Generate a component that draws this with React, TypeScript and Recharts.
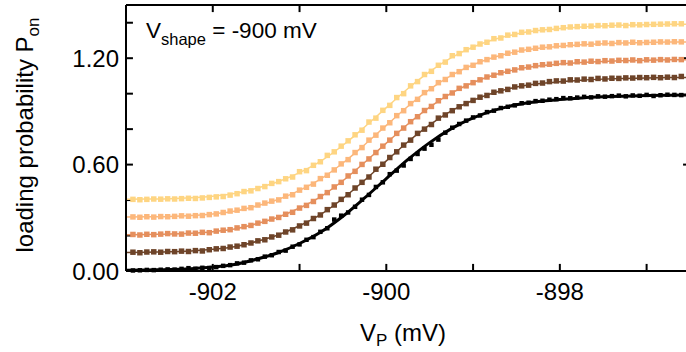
import { ComposedChart, Line, Scatter, XAxis, YAxis, ZAxis } from 'recharts';

// pulse voltage V_P (mV) of every measured point
const vp = [
  -902.92, -902.84, -902.76, -902.68, -902.6, -902.52, -902.44, -902.36, -902.28, -902.2,
  -902.12, -902.04, -901.96, -901.88, -901.8, -901.72, -901.64, -901.56, -901.48, -901.4,
  -901.32, -901.24, -901.16, -901.08, -901.0, -900.92, -900.84, -900.76, -900.68, -900.6,
  -900.52, -900.44, -900.36, -900.28, -900.2, -900.12, -900.04, -899.96, -899.88, -899.8,
  -899.72, -899.64, -899.56, -899.48, -899.4, -899.32, -899.24, -899.16, -899.08, -899.0,
  -898.92, -898.84, -898.76, -898.68, -898.6, -898.52, -898.44, -898.36, -898.28, -898.2,
  -898.12, -898.04, -897.96, -897.88, -897.8, -897.72, -897.64, -897.56, -897.48, -897.4,
  -897.32, -897.24, -897.16, -897.08, -897.0, -896.92, -896.84, -896.76, -896.68, -896.6,
];

// measured P_on, each trace shifted up by 0.1 from the one below
const blackPts = [
  0.003, 0.004, 0.006, 0.005, 0.007, 0.009, 0.008, 0.012, 0.016, 0.013,
  0.018, 0.017, 0.022, 0.029, 0.033, 0.043, 0.047, 0.06, 0.066, 0.081,
  0.089, 0.107, 0.115, 0.137, 0.15, 0.176, 0.191, 0.221, 0.241, 0.29,
  0.312, 0.33, 0.362, 0.402, 0.429, 0.474, 0.5, 0.546, 0.566, 0.595,
  0.632, 0.66, 0.69, 0.712, 0.741, 0.78, 0.808, 0.829, 0.848, 0.866,
  0.877, 0.896, 0.904, 0.919, 0.926, 0.934, 0.946, 0.949, 0.958, 0.96,
  0.966, 0.969, 0.975, 0.974, 0.978, 0.982, 0.979, 0.985, 0.983, 0.986,
  0.989, 0.985, 0.99, 0.988, 0.993, 0.987, 0.991, 0.994, 0.993, 0.992,
];
const brownPts = [
  0.106, 0.103, 0.107, 0.108, 0.106, 0.11, 0.109, 0.112, 0.11, 0.115,
  0.113, 0.12, 0.125, 0.127, 0.135, 0.14, 0.148, 0.158, 0.17, 0.176,
  0.192, 0.202, 0.22, 0.232, 0.254, 0.27, 0.296, 0.316, 0.346, 0.372,
  0.404, 0.43, 0.468, 0.5, 0.53, 0.574, 0.602, 0.64, 0.672, 0.71,
  0.738, 0.776, 0.8, 0.826, 0.862, 0.88, 0.904, 0.926, 0.944, 0.962,
  0.98, 0.99, 1.008, 1.016, 1.024, 1.038, 1.044, 1.048, 1.058, 1.06,
  1.068, 1.072, 1.071, 1.078, 1.077, 1.082, 1.08, 1.086, 1.083, 1.087,
  1.086, 1.089, 1.088, 1.091, 1.09, 1.092, 1.09, 1.093, 1.091, 1.097,
];
const orangePts = [
  0.206, 0.203, 0.207, 0.205, 0.208, 0.211, 0.209, 0.208, 0.214, 0.213,
  0.218, 0.216, 0.225, 0.23, 0.233, 0.243, 0.25, 0.257, 0.27, 0.28,
  0.293, 0.302, 0.32, 0.331, 0.355, 0.37, 0.392, 0.42, 0.442, 0.474,
  0.5, 0.536, 0.562, 0.601, 0.632, 0.668, 0.704, 0.738, 0.776, 0.806,
  0.842, 0.87, 0.905, 0.928, 0.96, 0.984, 1.004, 1.03, 1.044, 1.062,
  1.078, 1.094, 1.104, 1.118, 1.126, 1.134, 1.146, 1.15, 1.158, 1.163,
  1.166, 1.171, 1.175, 1.173, 1.18, 1.178, 1.183, 1.181, 1.186, 1.184,
  1.188, 1.187, 1.19, 1.186, 1.191, 1.189, 1.192, 1.19, 1.193, 1.192,
];
const apricotPts = [
  0.305, 0.303, 0.306, 0.304, 0.307, 0.306, 0.308, 0.311, 0.309, 0.312,
  0.313, 0.318, 0.322, 0.33, 0.338, 0.343, 0.353, 0.357, 0.372, 0.383,
  0.394, 0.401, 0.422, 0.43, 0.456, 0.472, 0.49, 0.521, 0.54, 0.57,
  0.604, 0.628, 0.668, 0.696, 0.738, 0.766, 0.806, 0.836, 0.876, 0.904,
  0.944, 0.968, 1.006, 1.028, 1.062, 1.08, 1.108, 1.124, 1.148, 1.16,
  1.18, 1.192, 1.206, 1.214, 1.228, 1.234, 1.246, 1.25, 1.256, 1.262,
  1.264, 1.27, 1.272, 1.276, 1.278, 1.281, 1.279, 1.284, 1.286, 1.283,
  1.288, 1.286, 1.29, 1.287, 1.289, 1.29, 1.292, 1.291, 1.293, 1.292,
];
const yellowPts = [
  0.404, 0.402, 0.404, 0.406, 0.405, 0.407, 0.406, 0.408, 0.41, 0.409,
  0.412, 0.415, 0.418, 0.42, 0.428, 0.436, 0.448, 0.452, 0.465, 0.476,
  0.494, 0.504, 0.52, 0.53, 0.56, 0.566, 0.596, 0.616, 0.652, 0.672,
  0.704, 0.734, 0.768, 0.794, 0.84, 0.862, 0.906, 0.934, 0.978, 1.0,
  1.044, 1.068, 1.108, 1.126, 1.16, 1.178, 1.214, 1.226, 1.248, 1.262,
  1.28, 1.29, 1.31, 1.314, 1.33, 1.334, 1.346, 1.348, 1.356, 1.36,
  1.362, 1.368, 1.372, 1.376, 1.378, 1.38, 1.381, 1.384, 1.383, 1.386,
  1.387, 1.384, 1.389, 1.388, 1.39, 1.391, 1.392, 1.393, 1.394, 1.394,
];

// fitted curves, sampled every 0.25 mV
const fitVp = [
  -903, -902.75, -902.5, -902.25, -902, -901.75, -901.5, -901.25, -901, -900.75,
  -900.5, -900.25, -900, -899.75, -899.5, -899.25, -899, -898.75, -898.5, -898.25,
  -898, -897.75, -897.5, -897.25, -897, -896.75, -896.5,
];
const blackFit = [
  0.004, 0.006, 0.008, 0.013, 0.022, 0.037, 0.066, 0.103, 0.155, 0.221,
  0.309, 0.412, 0.521, 0.629, 0.724, 0.803, 0.863, 0.907, 0.937, 0.956,
  0.967, 0.976, 0.982, 0.986, 0.989, 0.991, 0.992,
];
const brownFit = [
  0.104, 0.106, 0.108, 0.113, 0.122, 0.137, 0.166, 0.203, 0.255, 0.321,
  0.409, 0.512, 0.621, 0.729, 0.824, 0.903, 0.963, 1.007, 1.037, 1.056,
  1.067, 1.076, 1.082, 1.086, 1.089, 1.091, 1.092,
];
const orangeFit = [
  0.204, 0.206, 0.208, 0.213, 0.222, 0.237, 0.266, 0.303, 0.355, 0.421,
  0.509, 0.612, 0.721, 0.829, 0.924, 1.003, 1.063, 1.107, 1.137, 1.156,
  1.167, 1.176, 1.182, 1.186, 1.189, 1.191, 1.192,
];
const apricotFit = [
  0.304, 0.306, 0.308, 0.313, 0.322, 0.337, 0.366, 0.403, 0.455, 0.521,
  0.609, 0.712, 0.821, 0.929, 1.024, 1.103, 1.163, 1.207, 1.237, 1.256,
  1.267, 1.276, 1.282, 1.286, 1.289, 1.291, 1.292,
];
const yellowFit = [
  0.404, 0.406, 0.408, 0.413, 0.422, 0.437, 0.466, 0.503, 0.555, 0.621,
  0.709, 0.812, 0.921, 1.029, 1.124, 1.203, 1.263, 1.307, 1.337, 1.356,
  1.367, 1.376, 1.382, 1.386, 1.389, 1.391, 1.392,
];

const xTicks = [-902, -901, -900, -899, -898, -897];
const xLabels = [-902, -900, -898];
const yTicks = [0, 0.2, 0.4, 0.6, 0.8, 1.0, 1.2, 1.4];
const yLabels = [0, 0.6, 1.2];

const X_MIN = -903;
const X_MAX = -896.5;
const Y_MAX = 1.5;
// inward tick length in data units (about 7 px)
const X_TICK_LEN = 0.04;
const Y_TICK_LEN = 0.08;

const FONT = "'Liberation Sans', Arial, Helvetica, sans-serif";

const traces = [
  { name: 'black', color: '#000000', pts: blackPts, fit: blackFit, lineWidth: 3, z: 'small' },
  { name: 'brown', color: '#6e4429', pts: brownPts, fit: brownFit, lineWidth: 1.5, z: 'big' },
  { name: 'orange', color: '#e58f5d', pts: orangePts, fit: orangeFit, lineWidth: 1.5, z: 'big' },
  { name: 'apricot', color: '#fcb77b', pts: apricotPts, fit: apricotFit, lineWidth: 1.5, z: 'big' },
  { name: 'yellow', color: '#fed582', pts: yellowPts, fit: yellowFit, lineWidth: 1.5, z: 'big' },
];

const toXY = (xs: number[], ys: number[]) => xs.map((x, i) => ({ x, y: ys[i] }));

// frame pieces (top edge + inward ticks), each a two-point segment in data space
const frameSegments = [
  { key: 'top', pts: toXY([X_MIN, X_MAX], [Y_MAX, Y_MAX]) },
  ...xTicks.map((v) => ({ key: `b${v}`, pts: toXY([v, v], [0, X_TICK_LEN]) })),
  ...xTicks.map((v) => ({ key: `t${v}`, pts: toXY([v, v], [Y_MAX, Y_MAX - X_TICK_LEN]) })),
  ...yTicks.map((v) => ({ key: `l${v}`, pts: toXY([X_MIN, X_MIN + Y_TICK_LEN], [v, v]) })),
  ...yLabels.map((v) => ({ key: `r${v}`, pts: toXY([X_MAX - Y_TICK_LEN, X_MAX], [v, v]) })),
];

const xFmt = (v: number) => (xLabels.includes(v) ? String(v) : '');
const yFmt = (v: number) => (yLabels.some((l) => Math.abs(l - v) < 1e-6) ? v.toFixed(2) : '');

// axis titles and the V_shape note, placed from each axis' viewBox
const yTitle = (props: any) => {
  const vb = props.viewBox;
  const cy = vb.y + vb.height / 2 - 3;
  return (
    <text transform={`translate(33,${cy}) rotate(-90)`} fontSize={24} fontFamily={FONT} fill="#000" textAnchor="middle">
      loading probability P<tspan fontSize={17} dy={6}>on</tspan>
    </text>
  );
};

const xTitle = (props: any) => {
  const vb = props.viewBox;
  return (
    <g>
      <text x={vb.x + vb.width / 2 - 5} y={vb.y + 70} fontSize={24} fontFamily={FONT} fill="#000" textAnchor="middle">
        V<tspan fontSize={17} dy={5}>P</tspan>
        <tspan dy={-5}>{' (mV)'}</tspan>
      </text>
      <text x={vb.x + 20} y={38} fontSize={22.5} fontFamily={FONT} fill="#000">
        V<tspan fontSize={16.5} dy={7}>shape</tspan>
        <tspan dy={-7}>{' = -900 mV'}</tspan>
      </text>
    </g>
  );
};

export default function App() {
  return (
    <div style={{ position: 'absolute', left: 0, top: 0, width: 686, height: 352, overflow: 'hidden', background: '#fff' }}>
      <ComposedChart width={700} height={352} margin={{ top: 5, right: 10, bottom: 0, left: 0 }}>
        <XAxis
          dataKey="x"
          type="number"
          domain={[X_MIN, X_MAX]}
          ticks={xTicks}
          height={81}
          tickSize={0}
          tickMargin={12}
          tickLine={false}
          axisLine={{ stroke: '#000', strokeWidth: 2 }}
          tick={{ fontSize: 24, fill: '#000', fontFamily: FONT }}
          tickFormatter={xFmt}
          label={xTitle}
        />
        <YAxis
          type="number"
          domain={[0, Y_MAX]}
          ticks={yTicks}
          width={126}
          tickSize={0}
          tickMargin={7}
          tickLine={false}
          axisLine={{ stroke: '#000', strokeWidth: 2 }}
          tick={{ fontSize: 24, fill: '#000', fontFamily: FONT }}
          tickFormatter={yFmt}
          label={yTitle}
        />
        <ZAxis zAxisId="small" type="number" range={[20, 20]} />
        <ZAxis zAxisId="big" type="number" range={[30, 30]} />
        {frameSegments.map((s) => (
          <Line
            key={s.key}
            data={s.pts}
            dataKey="y"
            type="linear"
            stroke="#000"
            strokeWidth={2}
            dot={false}
            activeDot={false}
            legendType="none"
            isAnimationActive={false}
          />
        ))}
        {traces.map((t) => (
          <Line
            key={`fit-${t.name}`}
            data={toXY(fitVp, t.fit)}
            dataKey="y"
            type="monotone"
            stroke={t.color}
            strokeWidth={t.lineWidth}
            dot={false}
            activeDot={false}
            isAnimationActive={false}
          />
        ))}
        {traces.map((t) => (
          <Scatter
            key={`pts-${t.name}`}
            data={toXY(vp, t.pts)}
            dataKey="y"
            zAxisId={t.z}
            fill={t.color}
            shape="square"
            isAnimationActive={false}
          />
        ))}
      </ComposedChart>
    </div>
  );
}
